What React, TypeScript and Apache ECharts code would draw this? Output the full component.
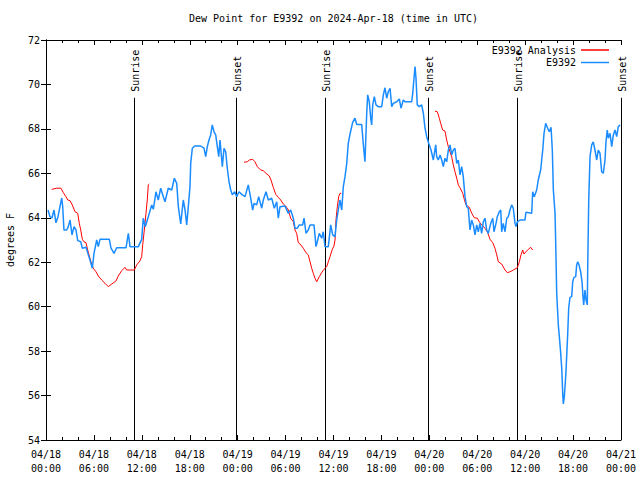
import React, { useEffect, useRef } from 'react';
import * as echarts from 'echarts';

const TITLE = 'Dew Point for E9392 on 2024-Apr-18 (time in UTC)';
const Y_NAME = 'degrees F';
const ANALYSIS_NAME = 'E9392 Analysis';
const OBS_NAME = 'E9392';
const X_DAY_LABELS = ['04/18', '04/19', '04/20', '04/21'];

// time = hours since 2024-04-18 00:00 UTC, values in degrees F
const analysisHours = [
  0.71, 1.34, 1.88, 2.17, 2.5, 2.72, 3.01, 3.29, 3.63, 3.97, 4.17, 4.35, 4.55, 4.76, 5.01, 5.22, 5.42, 5.63, 5.92, 6.26,
  6.55, 6.97, 7.39, 7.8, 8.23, 8.77, 9.05, 9.48, 9.89, 10.1, 11.06, 11.36, 11.77, 11.98, 12.11, 12.31, 12.52, 12.68, 12.81, 12.94,
  18.0,
  24.79, 25.21, 25.46, 25.88, 26.17, 26.46, 26.88, 27.21, 27.55, 27.96, 28.17, 28.46, 28.76, 29.09, 29.39, 29.71, 30.01, 30.34, 30.64, 30.97,
  31.18, 31.39, 31.59, 31.81, 32.22, 32.56, 32.84, 33.06, 33.27, 33.47, 33.68, 33.9, 34.22, 34.52, 34.81, 35.15, 35.35, 35.56, 35.85, 36.06,
  36.19, 36.31, 36.48, 36.65, 36.81, 36.98,
  42.0,
  48.71, 49.0, 49.25, 49.42, 49.67, 49.96, 50.17, 50.38, 50.59, 50.8, 51.0, 51.21, 51.43, 51.63, 51.84, 52.18, 52.34, 52.55, 52.75, 53.01,
  53.31, 53.63, 54.01, 54.26, 54.56, 54.97, 55.31, 55.6, 55.94, 56.22, 56.44, 56.64, 57.06, 57.48, 57.77, 58.1, 58.51, 59.02, 59.27, 59.48,
  59.69, 59.85, 60.1, 60.39, 60.69, 60.94,
];
const analysisValues = [
  65.28, 65.33, 65.33, 65.13, 64.95, 64.8, 64.77, 64.58, 64.27, 64.2, 63.75, 63.45, 63.03, 62.92, 62.88, 62.55, 62.28, 62.02, 61.73, 61.57,
  61.38, 61.2, 61.05, 60.9, 61.02, 61.16, 61.38, 61.62, 61.77, 61.65, 61.65, 61.88, 62.06, 62.25, 62.78, 63.45, 64.2, 64.8, 65.48, 65.52,
  null,
  66.5, 66.52, 66.6, 66.63, 66.52, 66.3, 66.15, 66.12, 66.0, 65.88, 65.7, 65.37, 65.06, 64.92, 64.8, 64.62, 64.53, 64.35, 63.98, 63.82,
  63.45, 63.3, 62.88, 62.82, 62.63, 62.43, 62.33, 62.02, 61.73, 61.5, 61.28, 61.12, 61.35, 61.53, 61.68, 61.8, 62.02, 62.25, 62.58, 62.73,
  63.0, 63.9, 64.5, 64.95, 65.1, 65.1,
  null,
  68.8, 68.77, 68.48, 68.25, 67.95, 67.9, 67.5, 67.2, 66.97, 66.75, 66.38, 66.07, 65.78, 65.48, 65.35, 65.1, 64.88, 64.62, 64.53, 64.47,
  64.2, 64.0, 63.98, 63.82, 63.68, 63.53, 63.33, 63.03, 62.88, 62.63, 62.33, 62.02, 61.92, 61.65, 61.53, 61.57, 61.65, 61.75, 62.02, 62.33,
  62.55, 62.37, 62.47, 62.58, 62.67, 62.55,
];

const obsHours = [
  0.25, 0.5, 0.75, 1.0, 1.25, 1.5, 1.75, 1.97, 2.09, 2.25,
  2.59, 2.79, 3.01, 3.26, 3.51, 3.76, 3.97, 4.35, 4.55, 5.01,
  5.3, 5.51, 5.8, 6.01, 6.35, 6.55, 6.76, 7.93, 8.14, 8.52,
  8.85, 10.02, 10.31, 10.52, 11.56, 11.98, 12.18, 12.43, 12.81, 13.24,
  13.44, 13.77, 14.06, 14.36, 14.69, 14.9, 15.31, 15.74, 16.07, 16.37,
  16.57, 16.87, 17.19, 17.41, 17.62, 17.82, 18.03, 18.12, 18.32, 18.62,
  19.37, 19.78, 20.0, 20.2, 20.41, 20.62, 20.82, 21.04, 21.25, 21.45,
  21.63, 21.79, 22.08, 22.29, 22.5, 22.7, 22.92, 23.13, 23.33, 23.63,
  23.88, 24.17, 24.58, 24.92, 25.33, 25.63, 25.88, 26.05, 26.38, 26.63,
  27.01, 27.21, 27.55, 27.84, 28.26, 28.59, 28.89, 29.09, 29.3, 29.93,
  30.34, 30.64, 30.97, 31.18, 31.47, 31.72, 32.14, 32.31, 32.56, 32.84,
  33.06, 33.56, 33.81, 33.97, 34.22, 34.52, 34.72, 34.94, 35.35, 35.65,
  35.9, 36.19, 36.4, 36.6, 36.81, 37.03, 37.23, 37.44, 37.65, 37.85,
  38.07, 38.4, 38.69, 38.91, 39.53, 39.73, 39.94, 40.16, 40.28, 40.48,
  40.66, 40.78, 40.91, 41.11, 41.32, 41.61, 42.04, 42.24, 42.45, 42.66,
  42.86, 43.08, 43.29, 43.49, 43.91, 44.24, 44.45, 44.74, 44.95, 45.79,
  45.92, 46.08, 46.21, 46.33, 46.49, 46.74, 47.04, 47.25, 47.46, 47.67,
  47.92, 48.21, 48.5, 48.8, 48.92, 49.12, 49.34, 49.55, 49.75, 49.96,
  50.17, 50.38, 50.59, 50.8, 51.0, 51.21, 51.43, 51.63, 51.84, 52.05,
  52.25, 52.47, 52.68, 52.88, 53.09, 53.3, 53.51, 53.72, 53.93, 54.13,
  54.34, 54.55, 54.76, 54.97, 55.18, 55.38, 55.69, 55.94, 56.1, 56.35,
  56.51, 56.76, 56.94, 57.06, 57.26, 57.48, 57.69, 57.89, 58.1, 58.31,
  58.51, 58.73, 58.85, 59.02, 59.35, 59.98, 60.1, 60.82, 60.94, 61.14,
  61.44, 61.64, 61.94, 62.2, 62.36, 62.57, 62.82, 63.02, 63.24, 63.4,
  63.53, 63.74, 63.82, 63.95, 64.15, 64.28, 64.45, 64.58, 64.7, 64.78,
  64.9, 64.99, 65.11, 65.33, 65.45, 65.61, 65.83, 65.95, 66.11, 66.33,
  66.45, 66.58, 66.74, 66.95, 67.12, 67.24, 67.33, 67.49, 67.62, 67.78,
  67.83, 67.96, 68.12, 68.33, 68.53, 68.74, 68.96, 69.16, 69.37, 69.58,
  69.78, 70.0, 70.12, 70.28, 70.41, 70.62, 70.84, 71.04, 71.25, 71.46,
  71.66, 71.88,
];
const obsValues = [
  64.35, 64.05, 63.99, 64.35, 63.77, 64.05, 64.5, 64.89, 64.5, 63.45,
  63.45, 63.6, 63.9, 63.23, 63.6, 63.45, 62.97, 62.92, 62.63, 62.67,
  62.33, 62.1, 61.73, 62.4, 63.0, 62.7, 63.03, 63.03, 62.63, 62.4,
  62.65, 62.65, 63.3, 62.7, 62.7, 63.03, 63.98, 63.6, 64.05, 64.58,
  64.38, 65.17, 64.8, 65.33, 64.95, 64.72, 65.33, 65.25, 65.78, 65.55,
  64.5, 63.72, 64.8, 64.35, 63.68, 64.5, 65.4, 66.45, 67.13, 67.23,
  67.23, 67.13, 66.75, 67.2, 67.5, 67.73, 68.18, 67.87, 67.73, 67.2,
  66.75, 67.5, 66.3, 67.13, 66.97, 66.23, 65.62, 65.25, 65.03, 65.17,
  64.95, 65.17, 65.03, 64.95, 65.48, 64.88, 64.35, 64.65, 64.58, 64.95,
  64.43, 64.8, 65.17, 64.8, 64.88, 64.43, 64.72, 63.98, 64.5, 64.53,
  64.2, 64.35, 63.98, 63.53, 63.53, 63.68, 63.68, 63.98, 63.3, 63.45,
  63.68, 63.68, 62.7, 62.92, 63.3, 63.08, 63.37, 62.7, 62.7, 63.68,
  63.23, 63.15, 63.9, 64.35, 64.8, 64.35, 65.4, 65.85, 66.42, 67.35,
  67.77, 68.29, 68.48, 68.2, 68.2, 67.32, 66.52, 68.7, 69.53, 69.22,
  68.48, 68.18, 69.08, 69.45, 69.08, 69.0, 69.0, 69.53, 69.85, 69.38,
  69.67, 69.83, 69.0, 69.15, 69.22, 69.35, 68.93, 69.3, 69.22, 69.22,
  69.6, 70.28, 70.8, 70.28, 69.08, 69.0, 69.08, 68.7, 68.03, 67.65,
  67.35, 67.05, 66.6, 67.28, 66.75, 66.6, 66.83, 66.6, 66.3, 66.68,
  66.52, 67.05, 67.28, 66.83, 67.05, 67.13, 66.45, 66.6, 65.93, 66.3,
  65.85, 64.95, 64.5, 64.43, 63.45, 63.9, 63.68, 63.23, 63.68, 63.37,
  63.75, 63.3, 63.82, 63.98, 63.45, 63.3, 63.75, 63.98, 63.37, 63.75,
  64.05, 64.27, 64.35, 63.37, 63.75, 63.37, 63.98, 64.05, 64.35, 64.58,
  64.43, 63.75, 63.6, 63.82, 63.9, 63.9, 64.25, 64.2, 65.17, 64.95,
  65.25, 65.7, 66.15, 67.05, 67.8, 68.25, 68.03, 67.87, 68.07, 67.05,
  65.25, 64.2, 62.92, 60.6, 59.18, 58.65, 57.9, 57.23, 56.1, 55.62,
  55.95, 56.4, 57.07, 58.8, 59.93, 60.42, 60.45, 61.12, 61.32, 61.35,
  61.88, 62.02, 61.88, 61.57, 61.12, 60.45, 60.08, 60.75, 60.3, 60.08,
  61.73, 64.8, 66.75, 67.28, 67.42, 67.05, 66.6, 67.05, 66.9, 66.07,
  66.0, 66.6, 67.42, 67.95, 67.58, 67.8, 67.2, 67.73, 67.95, 67.65,
  68.1, 68.18,
];

const sunEventHours = [11.0, 23.75, 34.95, 47.85, 58.98, 71.94];
const sunEventLabels = ['Sunrise', 'Sunset', 'Sunrise', 'Sunset', 'Sunrise', 'Sunset'];
const SUN_LINE_TOP = 69.4;

const Y_MIN = 54;
const Y_MAX = 72;
const FONT = 'DejaVu Sans Mono';
const LEGEND_LINE_ICON = 'path://M0,0L56,0L56,3L0,3Z';

export default function App() {
  const ref = useRef<HTMLDivElement>(null);

  useEffect(() => {
    if (!ref.current) return;
    const chart = echarts.init(ref.current, undefined, { renderer: 'svg' });

    const analysisData = analysisHours.map((h, i) => [h, analysisValues[i]]);
    const obsData = obsHours.map((h, i) => [h, obsValues[i]]);

    const baseX = {
      type: 'value',
      min: 0,
      max: 72,
      interval: 6,
      axisLine: { show: true, lineStyle: { color: '#000', width: 1 } },
      axisTick: { show: true, inside: true, length: 5, lineStyle: { color: '#000' } },
      minorTick: { show: true, splitNumber: 3, length: 3, lineStyle: { color: '#000' } },
      splitLine: { show: false },
      minorSplitLine: { show: false },
    };
    const baseY = {
      type: 'value',
      min: Y_MIN,
      max: Y_MAX,
      interval: 2,
      axisLine: { show: true, lineStyle: { color: '#000', width: 1 } },
      axisTick: { show: true, inside: true, length: 5, lineStyle: { color: '#000' } },
      splitLine: { show: false },
    };

    chart.setOption({
      animation: false,
      backgroundColor: '#fff',
      title: {
        text: TITLE,
        left: 189,
        top: 13,
        padding: 0,
        textStyle: { fontFamily: FONT, fontSize: 10, fontWeight: 'normal', color: '#000' },
      },
      legend: {
        data: [
          { name: ANALYSIS_NAME, icon: LEGEND_LINE_ICON },
          { name: OBS_NAME, icon: LEGEND_LINE_ICON },
        ],
        orient: 'vertical',
        align: 'right',
        right: 31,
        top: 45,
        padding: 0,
        itemGap: 2.5,
        itemWidth: 28,
        itemHeight: 10,
        symbolKeepAspect: true,
        textStyle: { fontFamily: FONT, fontSize: 10, color: '#000' },
      },
      grid: {
        left: 46,
        right: 19,
        top: 40,
        bottom: 40,
        containLabel: false,
        outerBoundsMode: 'none',
      },
      xAxis: [
        {
          ...baseX,
          position: 'bottom',
          axisLabel: {
            show: true,
            margin: 7,
            fontFamily: FONT,
            fontSize: 10,
            lineHeight: 14,
            color: '#000',
            showMinLabel: true,
            showMaxLabel: true,
            formatter: (v: number) => {
              const d = Math.floor(v / 24);
              const h = Math.round(v - d * 24);
              return X_DAY_LABELS[d] + '\n' + String(h).padStart(2, '0') + ':00';
            },
          },
        },
        { ...baseX, position: 'top', axisLabel: { show: false } },
      ],
      yAxis: [
        {
          ...baseY,
          position: 'left',
          name: Y_NAME,
          nameLocation: 'middle',
          nameGap: 31,
          nameTextStyle: { fontFamily: FONT, fontSize: 10, color: '#000' },
          axisLabel: { show: true, margin: 6, fontFamily: FONT, fontSize: 10, color: '#000' },
        },
        { ...baseY, position: 'right', axisLabel: { show: false } },
      ],
      series: [
        {
          type: 'custom',
          name: 'sun',
          xAxisIndex: 0,
          yAxisIndex: 0,
          silent: true,
          clip: false,
          data: sunEventHours.map((h) => [h]),
          encode: { x: 0 },
          renderItem: (params: any, api: any) => {
            const t = api.value(0);
            const p0 = api.coord([t, Y_MIN]);
            const p1 = api.coord([t, SUN_LINE_TOP]);
            const x = Math.round(p0[0]) + 0.5;
            return {
              type: 'group',
              children: [
                {
                  type: 'line',
                  shape: { x1: x, y1: p0[1], x2: x, y2: p1[1] },
                  style: { stroke: '#000', lineWidth: 1 },
                },
                {
                  type: 'text',
                  x: x + 0.5,
                  y: p1[1] - 6,
                  rotation: Math.PI / 2,
                  style: {
                    text: sunEventLabels[params.dataIndex],
                    align: 'left',
                    verticalAlign: 'middle',
                    fontFamily: FONT,
                    fontSize: 10,
                    fill: '#000',
                  },
                },
              ],
            };
          },
        },
        {
          type: 'line',
          name: ANALYSIS_NAME,
          xAxisIndex: 0,
          yAxisIndex: 0,
          data: analysisData,
          symbol: 'none',
          connectNulls: false,
          lineStyle: { color: '#ff0000', width: 1 },
          itemStyle: { color: '#ff0000' },
        },
        {
          type: 'line',
          name: OBS_NAME,
          xAxisIndex: 0,
          yAxisIndex: 0,
          data: obsData,
          symbol: 'none',
          lineStyle: { color: '#1a8cff', width: 1.5 },
          itemStyle: { color: '#1a8cff' },
        },
      ],
    });

    return () => chart.dispose();
  }, []);

  return <div ref={ref} style={{ width: 640, height: 480, position: 'absolute', left: 0, top: 0 }} />;
}
